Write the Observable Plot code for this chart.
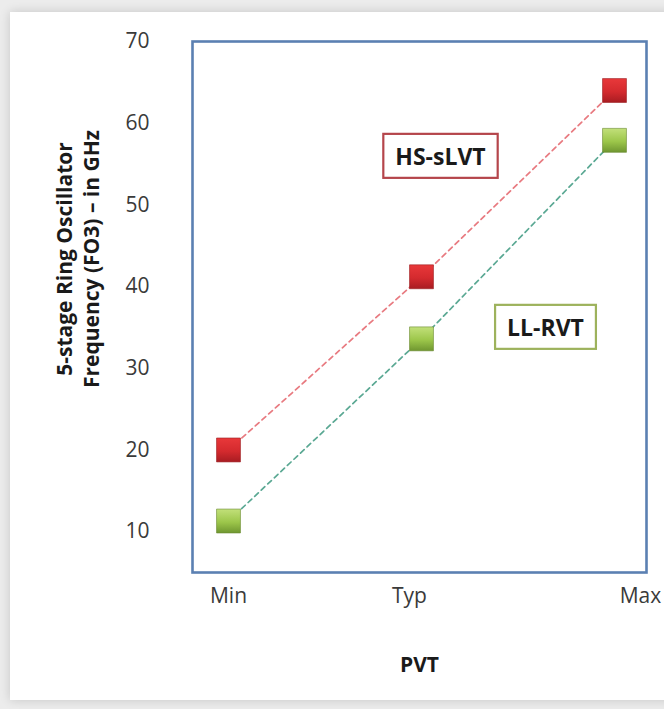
<!DOCTYPE html>
<html>
<head>
<meta charset="utf-8">
<script src="https://cdn.jsdelivr.net/npm/d3@7"></script>
<script src="https://cdn.jsdelivr.net/npm/@observablehq/plot@0.6"></script>
<style>
  html, body { margin: 0; padding: 0; background: #ececec; width: 664px; height: 709px; overflow: hidden; }
  #card { position: absolute; left: 10px; top: 12px; width: 720px; height: 688px; background: #fff;
          box-shadow: 0 0 10px rgba(0,0,0,0.16); }
  #chart { position: absolute; left: 0; top: 0; }
  #chart svg { background: transparent; }
</style>
</head>
<body>
<div id="card"></div>
<div id="chart"></div>
<script>
// ---- data ----
const categories = ["Min", "Typ", "Max"];
const seriesNames = ["HS-sLVT", "LL-RVT"];
const hsSLVT = [20, 41.2, 64];
const llRVT = [11.3, 33.6, 57.9];
const yTicks = [10, 20, 30, 40, 50, 60, 70];
const yTitle = "5-stage Ring Oscillator\nFrequency (FO3) \u2013 in GHz";
const xTitle = "PVT";

const red = categories.map((c, i) => ({pvt: c, ghz: hsSLVT[i], series: seriesNames[0]}));
const green = categories.map((c, i) => ({pvt: c, ghz: llRVT[i], series: seriesNames[1]}));

const font = "'Open Sans', 'Noto Sans', sans-serif";

const defs = () => {
  const g = d3.create("svg:defs");
  const r = g.append("linearGradient").attr("id", "gradRed").attr("x1", 0).attr("y1", 0).attr("x2", 0).attr("y2", 1);
  r.append("stop").attr("offset", "0%").attr("stop-color", "#e8383a");
  r.append("stop").attr("offset", "55%").attr("stop-color", "#d42a2e");
  r.append("stop").attr("offset", "100%").attr("stop-color", "#a81c22");
  const gr = g.append("linearGradient").attr("id", "gradGreen").attr("x1", 0).attr("y1", 0).attr("x2", 0).attr("y2", 1);
  gr.append("stop").attr("offset", "0%").attr("stop-color", "#c2e07a");
  gr.append("stop").attr("offset", "55%").attr("stop-color", "#9cc64a");
  gr.append("stop").attr("offset", "100%").attr("stop-color", "#6f9630");
  return g.node();
};

const chart = Plot.plot({
  width: 664,
  height: 709,
  marginLeft: 192,
  marginRight: 18,
  marginTop: 41,
  marginBottom: 137,
  style: {fontFamily: font, background: "transparent", overflow: "visible"},
  x: {type: "point", domain: categories, range: [227, 614], padding: 0},
  y: {domain: [5, 70]},
  marks: [
    defs,
    Plot.axisY({ticks: yTicks, tickSize: 0, tickPadding: 43, fontSize: 21, fill: "#3a3a3a", label: null}),
    Plot.axisX({ticks: ["Min"], tickSize: 0, tickPadding: 16, fontSize: 21, fill: "#3a3a3a", label: null}),
    Plot.axisX({ticks: ["Typ"], tickSize: 0, tickPadding: 16, dx: -12, fontSize: 21, fill: "#3a3a3a", label: null}),
    Plot.axisX({ticks: ["Max"], tickSize: 0, tickPadding: 16, dx: 26, fontSize: 21, fill: "#3a3a3a", label: null}),
    Plot.line(red, {x: "pvt", y: "ghz", stroke: "#e87a80", strokeWidth: 1.7, strokeDasharray: "5,4"}),
    Plot.line(green, {x: "pvt", y: "ghz", stroke: "#5aa893", strokeWidth: 1.7, strokeDasharray: "5,4"}),
    Plot.dot(red, {x: "pvt", y: "ghz", symbol: "square", r: 13.5, fill: "url(#gradRed)", stroke: "#9a1c20", strokeWidth: 0.6}),
    Plot.dot(green, {x: "pvt", y: "ghz", symbol: "square", r: 13.5, fill: "url(#gradGreen)", stroke: "#6a8a30", strokeWidth: 0.6}),
    Plot.frame({stroke: "#5b80b2", strokeWidth: 2.6}),
    Plot.text([seriesNames[0]], {frameAnchor: "top-left", textAnchor: "middle", lineAnchor: "middle", dx: 248, dy: 116, text: d => d, fontSize: 23, fontWeight: "bold", fill: "#1a1a1a", className: "callout-red"}),
    Plot.text([seriesNames[1]], {frameAnchor: "top-left", textAnchor: "middle", lineAnchor: "middle", dx: 353, dy: 287, text: d => d, fontSize: 23, fontWeight: "bold", fill: "#1a1a1a", className: "callout-green"}),
    Plot.text([yTitle], {frameAnchor: "left", textAnchor: "middle", lineAnchor: "middle", rotate: -90, dx: -116, dy: -48, text: d => d, fontSize: 21, fontWeight: "bold", lineHeight: 1.3, fill: "#1a1a1a"}),
    Plot.text([xTitle], {frameAnchor: "bottom", textAnchor: "middle", lineAnchor: "middle", dy: 93, text: d => d, fontSize: 21, fontWeight: "bold", fill: "#1a1a1a"})
  ]
});

document.getElementById("chart").appendChild(chart);

// boxes around callouts
function boxAround(cls, color) {
  chart.querySelectorAll("g." + cls + " text").forEach(t => {
    const b = t.getBBox();
    const padX = 12, padY = 7;
    const rect = document.createElementNS("http://www.w3.org/2000/svg", "rect");
    rect.setAttribute("x", b.x - padX);
    rect.setAttribute("y", b.y - padY + 1);
    rect.setAttribute("width", b.width + 2 * padX);
    rect.setAttribute("height", b.height + 2 * padY - 2);
    rect.setAttribute("fill", "#fff");
    rect.setAttribute("stroke", color);
    rect.setAttribute("stroke-width", 2.2);
    const tr = t.getAttribute("transform");
    if (tr) rect.setAttribute("transform", tr);
    t.parentNode.insertBefore(rect, t);
  });
}
boxAround("callout-red", "#b5454b");
boxAround("callout-green", "#9db25c");
</script>
</body>
</html>
